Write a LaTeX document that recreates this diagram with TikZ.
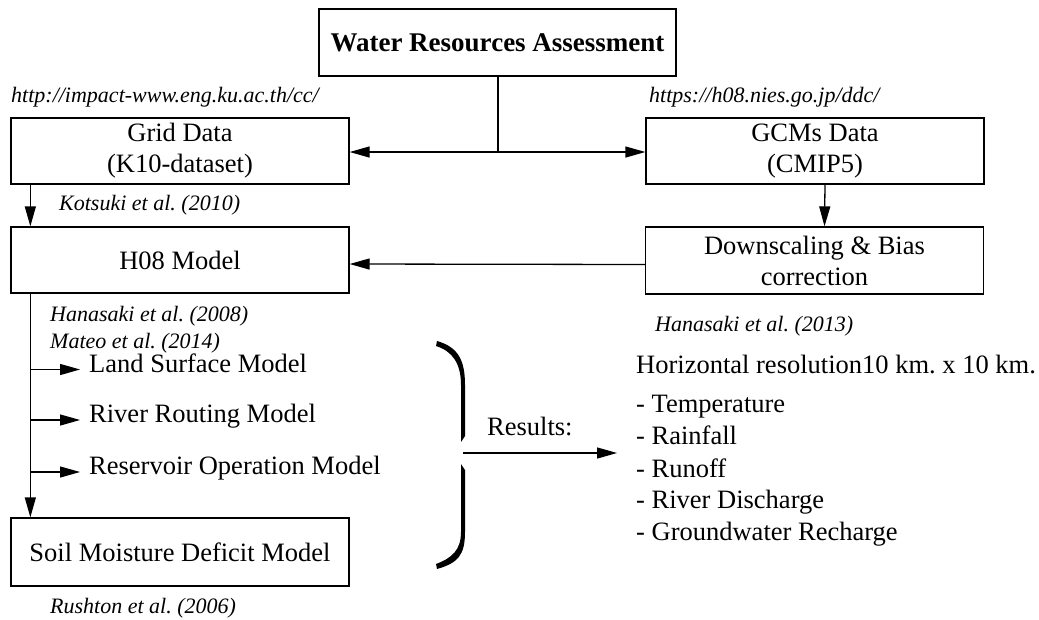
\documentclass[tikz,border=0pt]{standalone}
\usepackage{fontspec}
\setmainfont{Liberation Serif}
\usetikzlibrary{arrows.meta}
\frenchspacing
\tikzset{
  box/.style={draw, line width=1.3pt, minimum width=338pt, minimum height=66pt, align=center, inner sep=0pt, font=\fontsize{26.5}{31}\selectfont},
  txt/.style={inner sep=0pt, font=\fontsize{26.5}{31}\selectfont},
  refs/.style={inner sep=0pt, anchor=base west, font=\fontsize{22}{26}\selectfont\itshape},
  arr/.style={line width=1.3pt, -{Triangle[length=20pt,width=11pt]}},
  ln/.style={line width=1.3pt},
}
\begin{document}
\begin{tikzpicture}[x=1pt, y=-1pt]
\useasboundingbox (0,0) rectangle (1039,619);
% boxes
\node [box, minimum width=357pt, minimum height=67pt, font=\fontsize{27}{31}\selectfont\bfseries] (wra) at (497.5,42.5) {Water Resources Assessment};
\node [box] (grid) at (180,151) {Grid Data\\(K10-dataset)};
\node [box] (gcm) at (815,151) {GCMs Data\\(CMIP5)};
\node [box] (h08) at (180,260) {H08 Model};
\node [box, minimum height=67pt] (dsc) at (814.5,260.5) {Downscaling \& Bias\\correction};
\node [box, minimum height=68pt] (smd) at (180,552) {Soil Moisture Deficit Model};
% references
\node [refs] (url1) at (11,102) {http://impact-www.eng.ku.ac.th/cc/};
\node [refs] (url2) at (649,102) {https://h08.nies.go.jp/ddc/};
\node [refs] (kot) at (59,210) {Kotsuki et al. (2010)};
\node [refs] (han08) at (50,321) {Hanasaki et al. (2008)};
\node [refs] (mat) at (50,348) {Mateo et al. (2014)};
\node [refs] (rus) at (50,613) {Rushton et al. (2006)};
\node [refs] (han13) at (655,331) {Hanasaki et al. (2013)};
% connectors
\coordinate (j) at (498,152);
\draw [ln] (wra.south -| j) -- (j);
\draw [arr] (j) -- (grid.east |- j);
\draw [arr] (j) -- (gcm.west |- j);
\draw [arr] ([xshift=20pt]grid.south west) -- ([xshift=20pt]h08.north west);
\draw [arr] ([xshift=10pt]gcm.south) -- ([xshift=10pt]dsc.north);
\draw [arr] ([yshift=-4pt]dsc.west) -- ([yshift=-4pt]h08.east);
\draw [arr] ([xshift=20pt]h08.south west) -- ([xshift=20pt]smd.north west);
% sub-models
\node [txt, anchor=west, text height=0.7em, text depth=0.2em] (lsm) at (89,369.5) {Land Surface Model};
\node [txt, anchor=west, text height=0.7em, text depth=0.2em] (rrm) at (89,420) {River Routing Model};
\node [txt, anchor=west, text height=0.7em, text depth=0.2em] (rom) at (89,472) {Reservoir Operation Model};
\foreach \m in {lsm, rrm, rom}{\draw [arr, shorten >=9pt] (31,0 |- \m.west) -- (\m.west);}
% brace
\fill (437,341) .. controls (458,347) and (465,360) .. (465,385) -- (465,436) -- (461,442) -- (461,385) .. controls (461,363) and (452,351) .. (436,346) -- cycle;
\fill (461,464) -- (465,470) -- (465,532) .. controls (465,555) and (458,563) .. (437,569) -- (436,564) .. controls (452,558) and (461,550) .. (461,532) -- cycle;
\coordinate (tip) at (463,453);
% results
\node [txt, anchor=base west] (res) at (487,435) {Results:};
\node [txt, anchor=base west] (hr) at (636,373) {Horizontal resolution10 km. x 10 km.};
\foreach \y/\t [count=\i] in {412/Temperature, 444/Rainfall, 477/Runoff, 508/River Discharge, 540/Groundwater Recharge}
  {\node [txt, anchor=base west] (r\i) at (636,\y) {- \t};}
\draw [arr, shorten >=19pt] (tip) -- (tip -| hr.west);
\end{tikzpicture}
\end{document}
